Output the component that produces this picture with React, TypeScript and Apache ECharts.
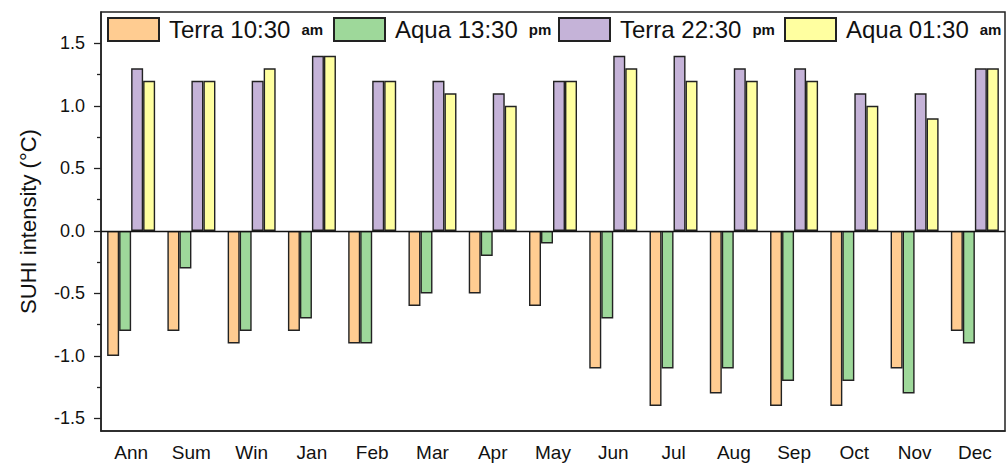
import React, { useEffect, useRef } from "react";
import * as echarts from "echarts";

const categories = ["Ann", "Sum", "Win", "Jan", "Feb", "Mar", "Apr", "May", "Jun", "Jul", "Aug", "Sep", "Oct", "Nov", "Dec"];
const terra1030 = [-1.0, -0.8, -0.9, -0.8, -0.9, -0.6, -0.5, -0.6, -1.1, -1.4, -1.3, -1.4, -1.4, -1.1, -0.8];
const aqua1330 = [-0.8, -0.3, -0.8, -0.7, -0.9, -0.5, -0.2, -0.1, -0.7, -1.1, -1.1, -1.2, -1.2, -1.3, -0.9];
const terra2230 = [1.3, 1.2, 1.2, 1.4, 1.2, 1.2, 1.1, 1.2, 1.4, 1.4, 1.3, 1.3, 1.1, 1.1, 1.3];
const aqua0130 = [1.2, 1.2, 1.3, 1.4, 1.2, 1.1, 1.0, 1.2, 1.3, 1.2, 1.2, 1.2, 1.0, 0.9, 1.3];
const majorTicks = [-1.5, -1.0, -0.5, 0.0, 0.5, 1.0, 1.5];
const minorTicks = [-1.25, -0.75, -0.25, 0.25, 0.75, 1.25];
const seriesNames = ["Terra 10:30", "Aqua 13:30", "Terra 22:30", "Aqua 01:30"];
const seriesSuffix = ["am", "pm", "pm", "am"];

const COLORS = ["#FFCC91", "#9ED89A", "#C5B3D8", "#FFFFA0"];
const LEG_X = [102, 328, 553, 779];
const FONT = "Liberation Sans, Arial, sans-serif";

export default function App() {
  const ref = useRef<HTMLDivElement>(null);
  useEffect(() => {
    if (!ref.current) return;
    const chart = echarts.init(ref.current, null, { renderer: "svg" });
    const data = [terra1030, aqua1330, terra2230, aqua0130];
    const series: any[] = data.map((d, i) => ({
      name: seriesNames[i],
      type: "bar",
      data: d,
      barWidth: 12,
      barGap: "0%",
      itemStyle: { color: COLORS[i], borderColor: "#222", borderWidth: 1.4 },
      ...(i === 0
        ? {
            markLine: {
              silent: true,
              symbol: "none",
              label: { show: false },
              lineStyle: { color: "#111", width: 1.4, type: "solid" },
              data: [{ yAxis: 0 }],
            },
          }
        : {}),
    }));
    const legends = seriesNames.map((n, i) => ({
      data: [n],
      left: LEG_X[i],
      top: 12,
      itemWidth: 51,
      itemHeight: 23,
      icon: "rect",
      formatter: (name: string) => `{a|${name}}{b|${seriesSuffix[i]}}`,
      textStyle: {
        fontFamily: FONT,
        rich: {
          a: { fontSize: 24, color: "#111", fontFamily: FONT, padding: [0, 0, 0, 5] },
          b: { fontSize: 15, fontWeight: "bold", color: "#111", fontFamily: FONT, padding: [0, 0, 1, 11] },
        },
      },
    }));
    chart.setOption({
      animation: false,
      backgroundColor: "#fff",
      textStyle: { fontFamily: FONT },
      legend: legends,
      grid: {
        left: 101,
        right: 3,
        top: 12,
        bottom: 35,
        show: true,
        borderColor: "#222",
        borderWidth: 1.5,
        backgroundColor: "transparent",
      },
      xAxis: {
        type: "category",
        data: categories,
        axisLine: { onZero: false, lineStyle: { color: "#222", width: 1.5 } },
        axisTick: { alignWithLabel: true, length: 6, lineStyle: { color: "#222", width: 1.3 } },
        axisLabel: { fontSize: 19, color: "#111", margin: 12, fontFamily: FONT },
        splitLine: { show: false },
      },
      yAxis: [
        {
          type: "value",
          min: -1.6,
          max: 1.75,
          name: "SUHI intensity (°C)",
          nameLocation: "middle",
          nameGap: 62,
          nameTextStyle: { fontSize: 22, color: "#111", fontFamily: FONT },
          axisLine: { show: true, lineStyle: { color: "#222", width: 1.5 } },
          axisTick: { show: true, length: 7, customValues: majorTicks, lineStyle: { color: "#222", width: 1.3 } },
          axisLabel: {
            fontSize: 18,
            color: "#111",
            margin: 16,
            fontFamily: FONT,
            customValues: majorTicks,
            formatter: (v: number) => v.toFixed(1),
          },
          splitLine: { show: false },
        },
        {
          type: "value",
          min: -1.6,
          max: 1.75,
          position: "left",
          axisLine: { show: false },
          axisTick: { show: true, length: 4, customValues: minorTicks, lineStyle: { color: "#222", width: 1.3 } },
          axisLabel: { show: false, customValues: minorTicks },
          splitLine: { show: false },
        },
      ],
      series,
    });
    return () => chart.dispose();
  }, []);
  return <div ref={ref} style={{ position: "fixed", left: 0, top: 0, width: 1008, height: 466 }} />;
}
